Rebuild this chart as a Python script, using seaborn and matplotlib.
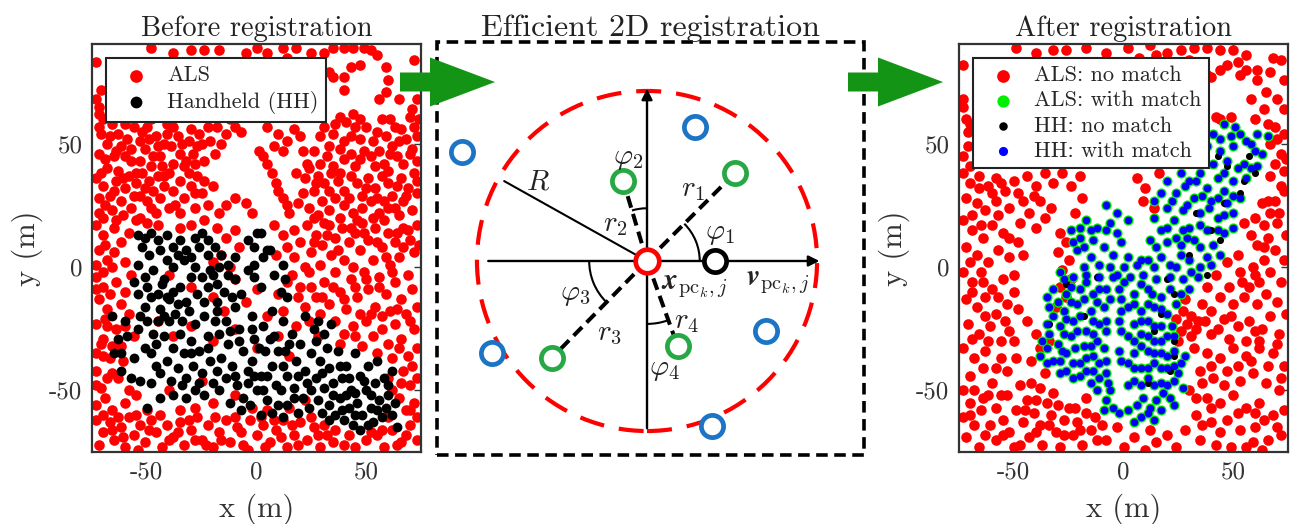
import numpy as np
import pandas as pd
import seaborn as sns
import matplotlib.pyplot as plt
from matplotlib.patches import Circle, Arc, FancyArrow, Rectangle
from matplotlib.transforms import IdentityTransform

# ---------------- data (metres) ----------------
als_before = [
    (-48,89),(-38,87),(-30,88),(-24,88),(-17,88),(-5,87),(0,89),(5,87),(12,89),(14,85),(18,89),(25,87),(31,87),
    (35,89),(40,89),(44,89),(49,89),(52,88),(55,86),(59,81),(72,84),
    (33,79),(35,77),(40,77),(43,81),(47,82),(40,72),(60,76),(59,71),(56,68),(65,68),(73,76),(73,68),(71,64),
    (-73,83),(-73,68),(-72,65),(-71,72),
    (-72,62),(-72,57),(-71,54),(-68,50),(-66,58),(-63,54),(-62,49),(-72,46),(-69,44),(-65,45),(-60,45),(-57,48),
    (-59,52),(-56,57),(-54,61),(-53,51),(-50,57),(-49,52),(-51,48),(-53,43),(-47,45),(-45,49),(-41,54),(-41,58),
    (-38,57),(-36,53),(-39,49),(-35,46),(-31,51),(-30,56),(-27,49),(-26,54),(-22,57),(-21,51),(-19,46),(-18,57),
    (-14,54),(-10,57),(-7,55),(-24,43),(-28,42),(-33,41),(-38,42),(-43,41),(-48,41),(-63,39),(-71,38),
    (-70,60),(-67,53),(-64,47),(-60,58),(-57,43),(-55,38),(-52,55),(-48,60),(-46,53),(-44,45),(-42,50),(-37,61),
    (-34,50),(-32,43),(-29,46),(-25,50),(-23,61),(-16,50),(-12,60),(-68,40),(-65,31),(-61,36),(-56,29),(-51,32),
    (-48,24),(-42,37),(-37,25),(-31,38),(-28,30),(-24,35),(-69,25),(-64,19),(-53,20),
    (5,57),(10,54),(14,51),(17,56),(20,53),(1,47),(3,45),(8,49),(12,47),
    (29,53),(35,54),(38,61),(41,59),(44,62),(47,60),(50,57),(43,53),(47,52),(53,51),(59,53),(62,49),(65,51),
    (72,57),(70,61),(73,53),(38,48),(43,46),(47,44),(52,45),(58,42),(64,45),(70,46),(73,43),(32,45),(26,47),
    (29,42),(35,41),(61,60),(66,56),(56,47),
    (31,57),(36,58),(33,49),(40,51),(45,57),(49,47),(55,55),(57,60),(63,57),(68,52),(67,42),(61,46),(54,41),
    (45,41),(40,44),(23,42),(21,47),(27,34),(33,31),(38,38),(42,28),(50,32),(55,28),(60,39),(64,33),(68,29),
    (73,35),(65,21),(60,24),(53,20),(46,19),(38,20),(31,18),(26,20),(71,48),(74,60),
    (-73,36),(-70,33),(-67,29),(-72,28),(-64,35),(-60,32),(-62,27),(-58,37),(-55,34),(-53,29),(-57,24),(-52,38),
    (-49,35),(-47,31),(-50,27),(-45,37),(-42,33),(-44,28),(-40,38),(-38,31),(-35,35),(-33,28),(-30,33),(-27,37),
    (-25,30),(-22,25),(-28,24),(-20,33),(-72,22),(-66,23),(-61,21),(-46,22),(-40,24),(-35,22),
    (5,42),(7,38),(9,34),(10,31),(12,28),(14,25),(15,22),
    (-14,25),(-10,28),(-5,26),(-2,22),(-17,22),
    (18,38),(22,36),(24,40),(28,37),(31,34),(26,31),(21,30),(34,38),(37,35),(40,31),(43,37),(46,34),(48,29),
    (51,36),(54,32),(57,37),(60,34),(62,29),(66,36),(69,32),(72,38),(73,30),(36,28),(30,27),(33,23),(40,25),
    (44,22),(48,24),(52,27),(56,22),(58,27),(63,24),(67,27),(71,23),(24,24),(19,26),(28,21),
    (-73,17),(-70,13),(-72,7),(-68,3),(-73,1),(-65,16),(-62,10),(-65,6),(-60,2),(-58,14),(-55,19),(-50,18),(-45,17),
    (-70,20),(-69,9),(-66,0),(-70,-2),
    (-30,17),(-24,19),(-18,16),(-14,12),(-10,15),(-8,8),(-16,5),(-20,2),(-12,0),(-35,16),
    (8,17),(12,13),(17,15),(14,8),(9,5),(20,10),(17,4),
    (23,17),(27,13),(25,6),(30,9),(33,17),(36,12),(34,5),(39,16),(42,10),(40,3),(45,14),(48,18),(47,7),(51,11),
    (54,16),(53,3),(57,8),(60,14),(58,19),(63,10),(65,4),(67,16),(70,11),(72,6),(73,17),(61,1),(44,0),(29,1),(22,0),
    (26,10),(32,13),(37,7),(43,16),(49,14),(55,10),(59,4),(64,14),(69,15),(74,9),(67,8),(62,-2),(56,-8),(50,-5),
    (45,-8),(40,-13),(35,-8),(30,-12),(25,-8),(19,-12),(14,-6),
    (-73,-4),(-70,-8),(-72,-13),(-67,-11),(-68,-17),(-64,-6),(-60,-10),(-62,-15),(-57,-3),(-58,-19),
    (-73,-9),(-69,-21),(-64,-25),(-70,-36),(-61,-38),(-66,-43),
    (-40,-3),(-30,-8),(-20,-12),(-10,-5),(-5,-14),(0,-9),(-15,-18),
    (16,-3),(20,-8),(24,-2),(27,-12),(31,-6),(33,-15),(36,-2),(38,-10),(41,-17),(43,-5),(46,-12),(49,-2),(51,-9),
    (54,-16),(56,-4),(59,-11),(61,-18),(63,-6),(66,-13),(69,-3),(71,-9),(73,-16),(68,-19),(29,-19),(22,-16),
    (12,-18),(10,-11),(47,-19),
    (57,-20),(64,-17),(70,-22),(52,-19),(45,-28),(38,-31),(65,-33),(71,-40),(60,-45),(66,-47),(70,-58),(73,-61),
    (62,-50),
    (-73,-23),(-70,-29),(-73,-35),(-67,-37),(-62,-32),(-68,-24),(-60,-24),(-56,-28),
    (-45,-22),(-38,-28),(-30,-24),(-20,-30),(-10,-25),(0,-33),(10,-28),(5,-20),(15,-36),(18,-24),
    (24,-22),(28,-28),(36,-22),(40,-27),(44,-24),(50,-22),(53,-28),(57,-25),(60,-31),(63,-23),(66,-29),(69,-36),
    (72,-25),(73,-33),(62,-37),(55,-35),(48,-32),
    (-73,-42),(-71,-49),(-73,-56),(-66,-58),(-60,-55),(-55,-52),(-50,-58),(-63,-45),
    (-73,-48),(-69,-53),(-58,-50),(-68,-45),(-71,-31),(-66,-32),
    (-40,-50),(-35,-58),(-25,-46),(-20,-55),(-10,-52),(5,-58),(15,-57),(22,-54),
    (67,-42),(70,-48),(72,-55),(68,-58),(73,-45),(65,-53),
    (-73,-62),(-70,-67),(-72,-72),(-67,-63),(-65,-70),(-62,-65),(-60,-73),(-58,-61),(-56,-68),(-53,-64),(-51,-71),
    (-48,-62),(-46,-67),(-43,-73),(-41,-64),(-38,-69),(-35,-63),(-33,-72),(-30,-66),(-27,-61),(-25,-70),(-22,-64),
    (-20,-73),(-17,-67),(-14,-62),(-12,-71),(-9,-65),(-6,-72),(-3,-62),(0,-68),(3,-64),(6,-71),(9,-66),(12,-62),
    (14,-73),(17,-68),(20,-63),(23,-70),(26,-65),(29,-73),(32,-68),(35,-71),(40,-72),(45,-73),(50,-70),(55,-68),
    (58,-73),(62,-66),(66,-71),(70,-64),(73,-70),(60,-61),(-28,-57),(-2,-57),
    (-70,-60),(-66,-66),(-63,-61),(-61,-69),(-55,-60),(-54,-74),(-49,-66),(-44,-60),(-40,-70),(-36,-67),(-31,-62),
    (-28,-70),(-23,-72),(-19,-61),(-16,-70),(-10,-61),(-7,-67),(-4,-74),(2,-61),(4,-73),(8,-62),(11,-69),(16,-64),
    (19,-72),(25,-61),(28,-68),(31,-64),(36,-66),(42,-68),(52,-67),(57,-66),(64,-72),(68,-68),
]

hh_before = [
    (-54,13),(-51,12),(-48,14),(-45,11),(-41,13),(-38,8),(-35,11),(-32,7),(-28,12),(-25,14),(-22,11),(-19,8),
    (-16,5),(-13,1),(-10,4),(-54,1),(-51,-4),(-47,-1),(-42,-5),(-38,0),(-33,3),(-28,0),(-25,-4),(-21,-1),(-18,-7),
    (-13,-3),(-10,-5),(-50,-8),(-45,-11),(-41,-12),(-35,-8),(-32,-14),(-27,-11),(-22,-8),(-18,-14),(-51,-16),
    (-54,-11),(-53,-20),
    (-52,8),(-49,5),(-44,7),(-41,3),(-36,5),(-30,4),(-26,8),(-22,5),(-17,0),(-48,-12),(-43,-7),(-38,-10),(-30,-4),
    (-24,-14),(-20,-3),(-15,-10),(-11,-12),(-56,-6),
    (-4,11),(-1,8),(0,14),(2,14),(5,7),(3,4),(-1,1),(-4,-1),(-1,-4),(2,-8),(-7,-11),(6,7),
    (12,1),(13,-5),(11,-10),(14,-12),(8,-3),
    (-66,-20),(-63,-29),(-65,-35),(-62,-42),(-57,-45),(-53,-46),(-48,-47),(-56,-37),(-51,-33),(-47,-27),(-48,-35),
    (-59,-28),(-45,-22),(-44,-53),(-50,-57),(-54,-25),(-50,-22),(-46,-40),(-62,-35),(-60,-22),
    (-44,-17),(-40,-22),(-37,-19),(-42,-28),(-38,-33),(-35,-27),(-41,-38),(-36,-41),(-39,-46),(-34,-48),(-44,-43),
    (-33,-35),(-40,-13),(-34,-22),(-36,-15),(-46,-31),(-42,-20),(-38,-52),(-32,-53),(-26,-47),
    (-31,-18),(-28,-23),(-24,-20),(-30,-30),(-26,-34),(-22,-28),(-29,-40),(-25,-43),(-21,-38),(-32,-45),(-28,-50),
    (-24,-52),(-20,-47),(-30,-35),(-22,-33),(-19,-22),
    (-18,-18),(-14,-22),(-10,-16),(-17,-27),(-13,-31),(-8,-25),(-16,-37),(-11,-40),(-6,-34),(-14,-45),(-9,-48),
    (-4,-42),(-17,-50),(-12,-55),(-6,-53),(-12,-26),(-8,-30),(-18,-42),(-10,-44),(-4,-47),
    (-2,-20),(3,-24),(7,-18),(-1,-29),(4,-34),(8,-28),(-2,-38),(2,-44),(7,-40),(0,-50),(5,-54),(9,-48),(-3,-56),
    (2,-60),(10,-56),(-2,-25),(1,-33),(6,-29),(10,-34),(12,-40),(5,-44),(-1,-44),(3,-50),(7,-59),(-7,-58),(12,-61),
    (12,-22),(16,-27),(20,-31),(13,-34),(18,-38),(22,-42),(14,-44),(11,-50),(17,-49),(21,-53),(14,-56),(19,-59),
    (24,-57),(23,-47),(25,-35),(17,-53),(15,-31),(19,-44),(25,-50),
    (27,-30),(31,-27),(29,-38),(33,-41),(27,-45),(31,-49),(28,-54),(33,-56),(35,-47),(22,-20),(28,-22),(34,-23),
    (30,-43),(32,-33),(26,-25),(35,-52),(30,-59),(33,-62),
    (37,-34),(41,-40),(45,-35),(39,-45),(43,-50),(47,-44),(51,-40),(55,-38),(38,-53),(42,-57),(46,-55),(50,-50),
    (54,-47),(58,-45),(62,-42),(36,-60),(40,-62),(44,-64),(48,-60),(52,-57),(56,-54),(60,-52),(63,-55),(47,-66),
    (53,-63),(57,-61),(62,-60),(64,-65),(38,-40),(42,-45),(45,-51),(49,-46),(52,-52),(41,-52),(45,-60),(51,-64),
    (55,-58),(59,-57),(60,-48),(39,-58),
]

als_after_nomatch = [
    (-49,89),(-40,87),(-32,88),(-26,88),(-17,89),(-8,87),(2,89),(12,90),(20,87),(26,88),(32,89),(38,89),(44,88),
    (50,88),(56,86),(7,85),(15,86),(30,84),(52,83),(56,80),(65,71),(67,79),(68,85),
    (47,82),(40,77),(44,80),(61,80),(61,76),(58,68),(72,84),(73,76),(70,68),(73,64),(64,64),(49,61),(44,60),
    (38,78),(53,78),(35,62),(42,61),
    (-73,82),(-73,68),(-73,65),(-72,60),(-71,55),(-71,49),(-73,45),
    (69,57),(73,54),(67,50),(72,46),(69,42),(73,39),(67,37),(73,31),(69,27),(67,22),(63,26),(64,17),(70,18),
    (74,13),(66,12),(61,9),(69,7),(73,3),(64,3),(59,0),(67,-2),(72,-6),(62,-6),(57,-8),(65,-11),(70,-14),(74,-19),
    (61,-15),(67,-20),(63,-25),(71,-27),(57,-22),
    (64,8),(71,22),(66,27),(72,33),(74,44),(70,52),(66,58),(60,60),
    (52,5),(47,2),(42,-3),(48,-8),(53,-2),(38,-8),(44,-12),(50,-15),(55,-12),(40,-18),(46,-21),(52,-24),(36,-15),
    (34,-22),(40,-27),(48,-29),(56,-30),(58,13),(55,18),(60,20),
    (54,-6),(60,-3),(49,-20),(43,-25),(37,-22),(31,-28),(60,-26),
    (24,-21),(27,-18),(29,-23),(26,-26),(31,-20),(33,-25),(28,-13),(25,-30),
    (32,-33),(38,-35),(44,-37),(50,-33),(56,-36),(62,-33),(68,-35),(73,-40),(35,-42),(41,-45),(47,-42),(53,-46),
    (59,-43),(65,-47),(71,-50),(30,-50),(38,-53),(44,-55),(50,-52),(56,-57),(62,-55),(68,-60),(73,-58),(33,-60),
    (40,-63),(47,-62),(53,-66),(60,-65),(66,-70),(72,-68),(28,-66),(35,-70),(42,-72),(49,-73),(56,-73),(63,-74),
    (62,-30),(70,-31),(58,-38),(66,-40),(72,-45),(52,-40),(46,-48),(40,-40),(36,-47),(33,-53),(40,-57),(52,-59),
    (60,-59),(64,-62),(70,-65),(44,-67),(36,-64),(59,-71),
    (-8,-70),(0,-73),(5,-69),(10,-74),(15,-71),(20,-68),(24,-73),(-3,-65),(12,-66),
    (-73,-50),(-70,-55),(-73,-61),(-68,-64),(-72,-69),(-66,-73),(-65,-58),(-62,-52),(-61,-64),(-58,-70),(-58,-57),
    (-55,-62),(-53,-52),(-52,-67),(-50,-73),(-49,-58),(-46,-63),(-44,-54),(-43,-69),(-41,-59),(-38,-64),(-37,-72),
    (-35,-55),(-33,-60),(-31,-67),(-29,-73),(-27,-62),(-25,-57),(-23,-68),(-21,-63),(-19,-72),(-17,-59),(-15,-66),
    (-12,-70),(-13,-61),(-38,-49),(-42,-47),(-32,-51),(-47,-48),(-60,-47),
    (-68,-50),(-64,-53),(-56,-52),(-45,-58),(-40,-54),(-34,-64),(-27,-68),(-20,-66),(-10,-64),(-17,-53),(-22,-57),
    (-30,-56),(-70,-60),(-63,-68),(-55,-68),(-47,-72),(-40,-67),
    (-44,-22),(-40,-27),(-38,-33),(-42,-38),(-36,-43),(-34,-30),
    (-29,14),(-26,10),(-30,6),(-25,3),(-28,-1),(-24,-5),(-29,-8),(-26,-12),(-31,-16),
    (-73,38),(-70,34),(-66,37),(-62,33),(-58,36),(-54,31),(-72,28),(-67,26),(-63,23),(-58,27),(-52,24),(-48,30),
    (-73,19),(-69,15),(-64,12),(-60,17),(-55,14),(-72,8),(-67,5),(-62,2),(-57,7),(-52,4),(-48,10),(-73,-2),(-69,-6),
    (-65,-2),(-60,-9),(-55,-5),(-50,-3),(-72,-13),(-67,-16),(-63,-12),(-58,-19),(-53,-15),(-71,-23),(-66,-27),
    (-61,-24),(-56,-30),(-52,-26),(-73,-33),(-68,-37),(-63,-34),(-58,-41),(-70,-44),(-49,-37),
    (-70,58),(-70,41),(-66,32),(-60,30),(-56,34),(-50,35),(-46,27),(-41,29),(-69,21),(-65,17),(-57,21),(-52,12),
    (-46,5),(-70,2),(-64,-6),(-57,-12),(-50,-10),(-69,-10),(-63,-20),(-54,-22),(-48,-17),(-69,-29),(-62,-30),
    (-56,-37),(-50,-30),(-64,-41),(-53,-42),
    (-44,37),(-40,33),(-36,38),(-32,34),(-28,38),(-24,33),(-20,37),(-38,27),(-33,24),(-43,22),(-47,18),(-40,16),
    (-36,20),(-19,28),(-22,22),
    (6,36),(10,32),(9,27),(16,38),(14,24),
]

hh_after_match = [
    (46,58),(41,54),(49,53),(53,54),(61,54),(66,53),(38,49),(44,47),(50,49),(58,50),(63,46),(41,42),(47,43),(55,42),
    (61,41),(35,38),(43,36),(50,35),(56,36),(26,38),(30,35),(38,32),(46,31),(53,28),(20,35),(24,30),(32,28),(40,27),
    (47,26),(14,27),(20,24),(27,23),(35,22),(43,20),(50,22),(14,20),(23,19),(30,16),(38,15),(46,14),(17,15),(24,12),
    (32,11),(41,9),(44,5),(12,11),
    (44,52),(51,57),(56,51),(60,47),(35,44),(46,38),(52,40),(58,40),(28,33),(36,29),(43,28),(50,29),(33,35),(17,30),
    (22,27),(29,25),(39,24),(46,21),(20,16),(27,15),(35,17),(43,15),(50,16),(26,9),(35,8),(38,4),(15,8),(20,10),
    (29,12),
    (2,4),(6,1),(11,3),(17,4),(21,1),(26,5),(30,3),(35,0),(40,1),(-3,-3),(3,-4),(9,-3),(15,-5),(21,-4),(27,-5),
    (34,-4),(-2,-9),(5,-11),(11,-9),(17,-12),(26,-11),(30,-9),(2,-16),(8,-18),(14,-16),(20,-19),(-2,-22),(5,-23),
    (11,-22),(17,-24),(2,-28),(8,-27),(14,-30),(20,-28),(-2,-34),(5,-35),(11,-34),(17,-35),(23,-34),(2,-39),(8,-41),
    (14,-39),(20,-41),(26,-39),(5,-46),(11,-45),(17,-47),(23,-46),(27,-49),(9,-53),(15,-54),(21,-53),(2,-58),(8,-61),
    (14,-62),(-2,-59),(-8,-54),(-9,-58),(17,-58),
    (0,0),(8,3),(14,0),(24,0),(31,-2),(0,-6),(8,-7),(13,-11),(21,-9),(24,-15),(-1,-13),(5,-15),(11,-15),(17,-17),
    (-1,-18),(8,-22),(14,-24),(22,-24),(-1,-26),(5,-30),(11,-28),(17,-30),(23,-28),(8,-32),(14,-35),(20,-36),
    (-1,-38),(5,-41),(11,-41),(17,-41),(23,-40),(2,-48),(8,-48),(14,-48),(20,-48),(6,-56),(12,-57),(18,-51),
    (23,-56),(-5,-57),(5,-63),(11,-59),(-6,-50),(25,-43),(28,-36),
    (-8,25),(-3,22),(2,19),(-17,19),(-15,15),(-20,12),(-14,11),(-8,15),(-3,14),(-9,8),(-5,5),(-15,4),(-21,7),
    (-24,15),(-20,16),(-23,10),(-18,8),(-12,16),(-6,18),(-1,10),(-11,1),(-6,0),(-18,0),
    (-27,-5),(-23,-4),(-17,-3),(-11,-4),(-32,-9),(-26,-11),(-20,-9),(-14,-11),(-8,-9),(-34,-16),(-27,-18),(-21,-15),
    (-15,-18),(-9,-16),(-35,-23),(-29,-24),(-23,-22),(-17,-26),(-11,-23),(-37,-30),(-30,-31),(-24,-28),(-18,-32),
    (-12,-30),(-38,-36),(-32,-38),(-26,-35),(-20,-39),(-14,-36),(-8,-38),(-29,-43),(-23,-45),(-17,-42),(-11,-45),
    (-12,-50),
    (-29,-2),(-24,-8),(-17,-6),(-11,-9),(-5,-4),(-35,-12),(-30,-14),(-24,-14),(-18,-13),(-12,-14),(-6,-13),
    (-32,-20),(-26,-21),(-20,-20),(-14,-22),(-8,-22),(-34,-27),(-27,-27),(-21,-26),(-14,-27),(-8,-26),(-35,-33),
    (-28,-34),(-22,-33),(-15,-32),(-9,-33),(-35,-39),(-29,-38),(-23,-39),(-17,-37),(-11,-39),(-26,-42),(-20,-44),
    (-14,-42),(-8,-43),(-15,-47),(-7,-47),
]

hh_after_nomatch = [
    (57,45),(60,38),(55,35),(47,41),(43,45),(46,26),(53,30),(33,22),(40,15),(44,11),(30,5),(38,-3),(20,-5),(23,-11),
    (17,-19),(14,-26),(23,-30),(23,-36),(21,-42),(11,-47),(-12,-4),(-26,-7),(-18,-20),(-34,-23),
]

# matched ALS points sit under their HH partners
als_after_match = hh_after_match

# schematic in the middle panel (unit radius search circle)
green_pts = [(0.52, 0.52), (-0.14, 0.47), (-0.56, -0.57), (0.18, -0.50)]
blue_pts = [(0.28, 0.79), (-1.09, 0.64), (-0.91, -0.54), (0.70, -0.41), (0.38, -0.97)]
ref_pt = (0.40, 0.0)
radius_end = (-0.84, 0.47)

# ---------------- style ----------------
sns.set_style("white")
plt.rcParams["font.family"] = ["cmr10", "DejaVu Serif"]
plt.rcParams["mathtext.fontset"] = "cm"
plt.rcParams["axes.unicode_minus"] = False
plt.rcParams["axes.formatter.use_mathtext"] = False

W, H = 1290, 524
fig = plt.figure(figsize=(W / 100, H / 100), dpi=100)


def px_axes(x0, y0, x1, y1):
    return fig.add_axes([x0 / W, 1 - y1 / H, (x1 - x0) / W, (y1 - y0) / H])


def to_df(pts):
    return pd.DataFrame(pts, columns=["x", "y"])


def style_scatter_axes(ax, title):
    ax.set_xlim(-75, 75)
    ax.set_ylim(-75, 90.5)
    ax.set_xticks([-50, 0, 50])
    ax.set_yticks([-50, 0, 50])
    ax.tick_params(direction="in", length=5, width=1, labelsize=18, pad=7,
                   top=True, right=True, colors="#333333", labelcolor="#333333")
    for sp in ax.spines.values():
        sp.set_color("#333333")
        sp.set_linewidth(1.6)
    ax.set_xlabel("x (m)", fontsize=22, color="#333333", labelpad=7)
    ax.set_ylabel("y (m)", fontsize=22, color="#333333", labelpad=4)
    ax.set_title(title, fontsize=20.5, color="#222222", pad=6)


def add_legend(ax):
    leg = ax.legend(loc="upper left", bbox_to_anchor=(14 / 329, 1 - 14 / 408), borderaxespad=0,
                    fontsize=16, frameon=True, fancybox=False, edgecolor="#222222", framealpha=1,
                    handletextpad=0.4, labelspacing=0.25, borderpad=0.35, markerscale=1.2)
    leg.get_frame().set_linewidth(1.5)


MS = 58

# left: before registration
ax1 = px_axes(92, 44, 421, 452)
sns.scatterplot(data=to_df(als_before), x="x", y="y", color="#ff0000", s=MS, linewidth=0,
                ax=ax1, label="ALS")
sns.scatterplot(data=to_df(hh_before), x="x", y="y", color="#000000", s=MS - 8, linewidth=0,
                ax=ax1, label="Handheld (HH)")
style_scatter_axes(ax1, "Before registration")
add_legend(ax1)

# right: after registration
ax3 = px_axes(959, 44, 1288, 452)
sns.scatterplot(data=to_df(als_after_nomatch), x="x", y="y", color="#ff0000", s=MS, linewidth=0,
                ax=ax3, label="ALS: no match")
sns.scatterplot(data=to_df(als_after_match), x="x", y="y", color="#00ee00", s=54, linewidth=0,
                ax=ax3, label="ALS: with match")
sns.scatterplot(data=to_df(hh_after_nomatch), x="x", y="y", color="#000000", s=26, linewidth=0,
                ax=ax3, label="HH: no match")
sns.scatterplot(data=to_df(hh_after_match), x="x", y="y", color="#0000ff", s=30, linewidth=0,
                ax=ax3, label="HH: with match")
style_scatter_axes(ax3, "After registration")
add_legend(ax3)

# middle: schematic
ax2 = px_axes(437, 42, 864, 455)
ax2.set_xlim(-1.235, 1.276)
ax2.set_ylim(-1.141, 1.288)
ax2.set_xticks([])
ax2.set_yticks([])
for sp in ax2.spines.values():
    sp.set_visible(False)
ax2.add_patch(Rectangle((0, 0), 1, 1, transform=ax2.transAxes, fill=False, ec="black",
                        lw=2.6, ls=(0, (3.2, 1.8)), clip_on=False, zorder=1))
ax2.set_title("Efficient 2D registration", fontsize=23, color="#222222", pad=4)

ax2.add_patch(Circle((0, 0), 1.0, fill=False, ec="#ff0000", lw=3, ls=(0, (6, 3.6)), zorder=2))
ax2.annotate("", xy=(1.03, 0), xytext=(-0.95, 0),
             arrowprops=dict(arrowstyle="-|>", lw=1.7, color="black", mutation_scale=16), zorder=3)
ax2.annotate("", xy=(0, 1.03), xytext=(0, -1.0),
             arrowprops=dict(arrowstyle="-|>", lw=1.7, color="black", mutation_scale=16), zorder=3)
ax2.plot([0, radius_end[0]], [0, radius_end[1]], color="black", lw=1.5, zorder=3)
for gx, gy in green_pts:
    ax2.plot([0, gx], [0, gy], color="black", lw=2.9, ls=(0, (3, 1.6)), zorder=3)

ax2.add_patch(Arc((0, 0), 0.62, 0.62, theta1=0, theta2=45, lw=1.5, color="black", zorder=3))
ax2.add_patch(Arc((0, 0), 0.62, 0.62, theta1=90, theta2=106.6, lw=1.5, color="black", zorder=3))
ax2.add_patch(Arc((0, 0), 0.68, 0.68, theta1=180, theta2=225.5, lw=1.5, color="black", zorder=3))
ax2.add_patch(Arc((0, 0), 0.74, 0.74, theta1=270, theta2=290, lw=1.5, color="black", zorder=3))

gx, gy = zip(*green_pts)
ax2.plot(gx, gy, "o", mfc="white", mec="#27a844", ms=16, mew=3.4, ls="none", zorder=4)
bx, by = zip(*blue_pts)
ax2.plot(bx, by, "o", mfc="white", mec="#1b74c4", ms=16, mew=3.4, ls="none", zorder=4)
ax2.plot([ref_pt[0]], [ref_pt[1]], "o", mfc="white", mec="black", ms=16, mew=3.4, zorder=4)
ax2.plot([0], [0], "o", mfc="white", mec="#ff0000", ms=17, mew=3.4, zorder=5)

lbl = dict(fontsize=21, color="#222222", ha="center", va="center", zorder=6)
ax2.text(-0.64, 0.46, r"$R$", **lbl)
ax2.text(0.27, 0.42, r"$r_1$", **lbl)
ax2.text(-0.19, 0.21, r"$r_2$", **lbl)
ax2.text(-0.22, -0.43, r"$r_3$", **lbl)
ax2.text(0.23, -0.36, r"$r_4$", **lbl)
ax2.text(0.43, 0.16, r"$\varphi_1$", **lbl)
ax2.text(-0.11, 0.6, r"$\varphi_2$", **lbl)
ax2.text(-0.42, -0.2, r"$\varphi_3$", **lbl)
ax2.text(0.10, -0.64, r"$\varphi_4$", **lbl)
ax2.text(0.08, -0.15, r"$\mathbfit{x}_{\mathrm{pc}_k,j}$", fontsize=21, color="#222222",
         ha="left", va="center", zorder=6)
ax2.text(0.58, -0.13, r"$\mathbfit{v}_{\mathrm{pc}_k,j}$", fontsize=21, color="#222222",
         ha="left", va="center", zorder=6)

# green arrows between panels (pixel coordinates, origin bottom-left)
for x0 in (400, 848):
    fig.add_artist(FancyArrow(x0, H - 82, 95, 0, width=19, head_width=49, head_length=65,
                              length_includes_head=True, color="#149414", lw=0,
                              transform=IdentityTransform(), zorder=10))

fig.savefig("out.png", dpi=100)
